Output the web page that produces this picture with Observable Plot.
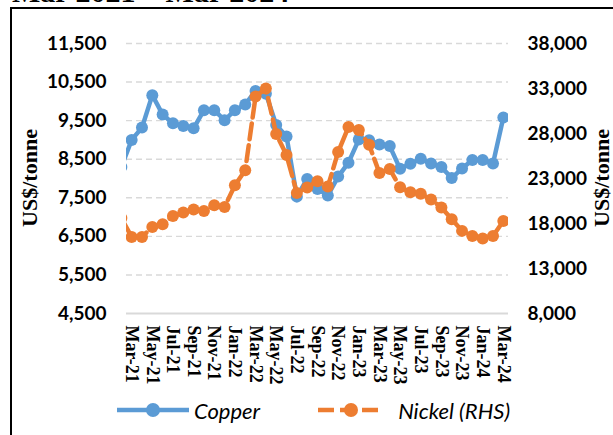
<!DOCTYPE html>
<html>
<head>
<meta charset="utf-8">
<script src="https://cdn.jsdelivr.net/npm/d3@7"></script>
<script src="https://cdn.jsdelivr.net/npm/@observablehq/plot@0.6"></script>
<style>
  html, body { margin: 0; padding: 0; background: #fff; }
  #wrap { position: relative; width: 613px; height: 435px; overflow: hidden; background: #fff; }
  #frame { position: absolute; left: 10px; top: 7px; width: 700px; height: 600px; border: 2px solid #000; box-sizing: border-box; }
  #title { position: absolute; left: 12px; top: -25px; font: bold 30px "Liberation Serif", serif; white-space: nowrap; color: #000; }
  #chart { position: absolute; left: 0; top: 0; }
  .ytitle { position: absolute; font: bold 22px "Liberation Serif", serif; line-height: 22px; color: #000; white-space: nowrap;
            transform: translate(-50%, -50%) rotate(-90deg); }
  #legend { position: absolute; left: 0; top: 396px; width: 613px; height: 28px; display: flex; align-items: center; }
  .item { display: flex; align-items: center; }
  .item span { font: italic 22px "Lato", sans-serif; color: #000; }
  g[aria-label="y-axis tick label"] text { font: bold 19px "Lato", sans-serif; fill: #000; }
  g[aria-label="x-axis tick label"] text { font: bold 18px "Liberation Serif", serif; fill: #000; }
</style>
</head>
<body>
<div id="wrap">
  <div id="frame"></div>
  <div id="title">Mar 2021 – Mar 2024</div>
  <div id="chart"></div>
  <div class="ytitle" style="left:30px; top:178px;">US$/tonne</div>
  <div class="ytitle" style="left:602px; top:178px;">US$/tonne</div>
  <div id="legend"></div>
</div>
<script>
const months = ["Feb-21","Mar-21","Apr-21","May-21","Jun-21","Jul-21","Aug-21","Sep-21","Oct-21","Nov-21","Dec-21",
  "Jan-22","Feb-22","Mar-22","Apr-22","May-22","Jun-22","Jul-22","Aug-22","Sep-22","Oct-22","Nov-22","Dec-22",
  "Jan-23","Feb-23","Mar-23","Apr-23","May-23","Jun-23","Jul-23","Aug-23","Sep-23","Oct-23","Nov-23","Dec-23",
  "Jan-24","Feb-24","Mar-24"];

const copper = [8300, 9000, 9320, 10160, 9660, 9430, 9360, 9300, 9770, 9770, 9510,
  9770, 9920, 10270, 10200, 9390, 9090, 7530, 7990, 7730, 7560, 8050, 8410,
  9010, 8990, 8880, 8840, 8250, 8380, 8510, 8390, 8300, 8010, 8260, 8480,
  8480, 8390, 9580];

const nickel = [18600, 16500, 16500, 17620, 17920, 18840, 19220, 19550, 19400, 20030, 19840,
  22250, 23920, 32100, 33000, 27950, 25600, 21400, 22000, 22700, 22100, 25950, 28730,
  28400, 26750, 23600, 24050, 22030, 21480, 21300, 20670, 19780, 18480, 17180, 16620,
  16330, 16620, 18290];

const xTickLabels = ["Mar-21","May-21","Jul-21","Sep-21","Nov-21","Jan-22","Mar-22","May-22","Jul-22","Sep-22",
  "Nov-22","Jan-23","Mar-23","May-23","Jul-23","Sep-23","Nov-23","Jan-24","Mar-24"];
const copperTicks = [4500, 5500, 6500, 7500, 8500, 9500, 10500, 11500];
const nickelTicks = [8000, 13000, 18000, 23000, 28000, 33000, 38000];

const seriesNames = ["Copper", "Nickel (RHS)"];
const colors = ["#5B9BD5", "#ED7D31"];

// map nickel (right axis) onto the copper (left axis) scale
const c0 = copperTicks[0], c1 = copperTicks[copperTicks.length - 1];
const n0 = nickelTicks[0], n1 = nickelTicks[nickelTicks.length - 1];
const toC = n => c0 + (n - n0) * (c1 - c0) / (n1 - n0);
const toN = c => n0 + (c - c0) * (n1 - n0) / (c1 - c0);

const first = months.indexOf("Mar-21");
const data = months.map((m, i) => ({idx: i - first, month: m, copper: copper[i], nickel: toC(nickel[i])}));
const xTicks = xTickLabels.map(l => months.indexOf(l) - first);
const fmt = d3.format(",");

const chart = Plot.plot({
  width: 613,
  height: 396,
  marginLeft: 126,
  marginRight: 105,
  marginTop: 43,
  marginBottom: 83,
  style: {background: "transparent", overflow: "visible"},
  x: {type: "linear", domain: [-0.5, xTicks[xTicks.length - 1] + 0.5], label: null},
  y: {domain: [c0, c1], label: null},
  marks: [
    Plot.gridY(copperTicks.slice(1), {stroke: "#d9d9d9", strokeOpacity: 1, strokeWidth: 1.4, strokeDasharray: "6,4"}),
    Plot.ruleY([c0], {stroke: "#d9d9d9", strokeWidth: 1.8}),
    Plot.axisY(copperTicks, {anchor: "left", tickSize: 0, tickPadding: 20, tickFormat: d => fmt(d), label: null}),
    Plot.axisY(nickelTicks.map(toC), {anchor: "right", tickSize: 0, tickPadding: 19, tickFormat: d => fmt(Math.round(toN(d))), label: null}),
    Plot.axisX(xTicks, {anchor: "bottom", tickSize: 0, tickPadding: 12, tickRotate: 90, tickFormat: d => months[d + first], label: null}),
    Plot.line(data, {x: "idx", y: "copper", stroke: colors[0], strokeWidth: 4.5, clip: "frame", strokeLinejoin: "round"}),
    Plot.dot(data, {x: "idx", y: "copper", r: 6, fill: colors[0], stroke: "none", clip: "frame"}),
    Plot.line(data, {x: "idx", y: "nickel", stroke: colors[1], strokeWidth: 4.5, strokeDasharray: "16,6", clip: "frame"}),
    Plot.dot(data, {x: "idx", y: "nickel", r: 6, fill: colors[1], stroke: "none", clip: "frame"})
  ]
});
document.getElementById("chart").appendChild(chart);

// legend
const legend = document.getElementById("legend");
const legendSpecs = [
  {name: seriesNames[0], color: colors[0], dash: null, pad: 117, sw: 72, gap: 5},
  {name: seriesNames[1], color: colors[1], dash: "16,6", pad: 58, sw: 66, gap: 14}
];
legendSpecs.forEach(s => {
  const item = document.createElement("div");
  item.className = "item";
  item.style.marginLeft = s.pad + "px";
  const ns = "http://www.w3.org/2000/svg";
  const svg = document.createElementNS(ns, "svg");
  svg.setAttribute("width", s.sw);
  svg.setAttribute("height", 20);
  const line = document.createElementNS(ns, "line");
  line.setAttribute("x1", 0); line.setAttribute("x2", s.sw);
  line.setAttribute("y1", 10); line.setAttribute("y2", 10);
  line.setAttribute("stroke", s.color); line.setAttribute("stroke-width", 4.5);
  if (s.dash) line.setAttribute("stroke-dasharray", s.dash);
  const c = document.createElementNS(ns, "circle");
  c.setAttribute("cx", s.sw / 2); c.setAttribute("cy", 10); c.setAttribute("r", 7);
  c.setAttribute("fill", s.color);
  svg.appendChild(line); svg.appendChild(c);
  const t = document.createElement("span");
  t.textContent = s.name;
  t.style.marginLeft = s.gap + "px";
  item.appendChild(svg); item.appendChild(t);
  legend.appendChild(item);
});
</script>
</body>
</html>
